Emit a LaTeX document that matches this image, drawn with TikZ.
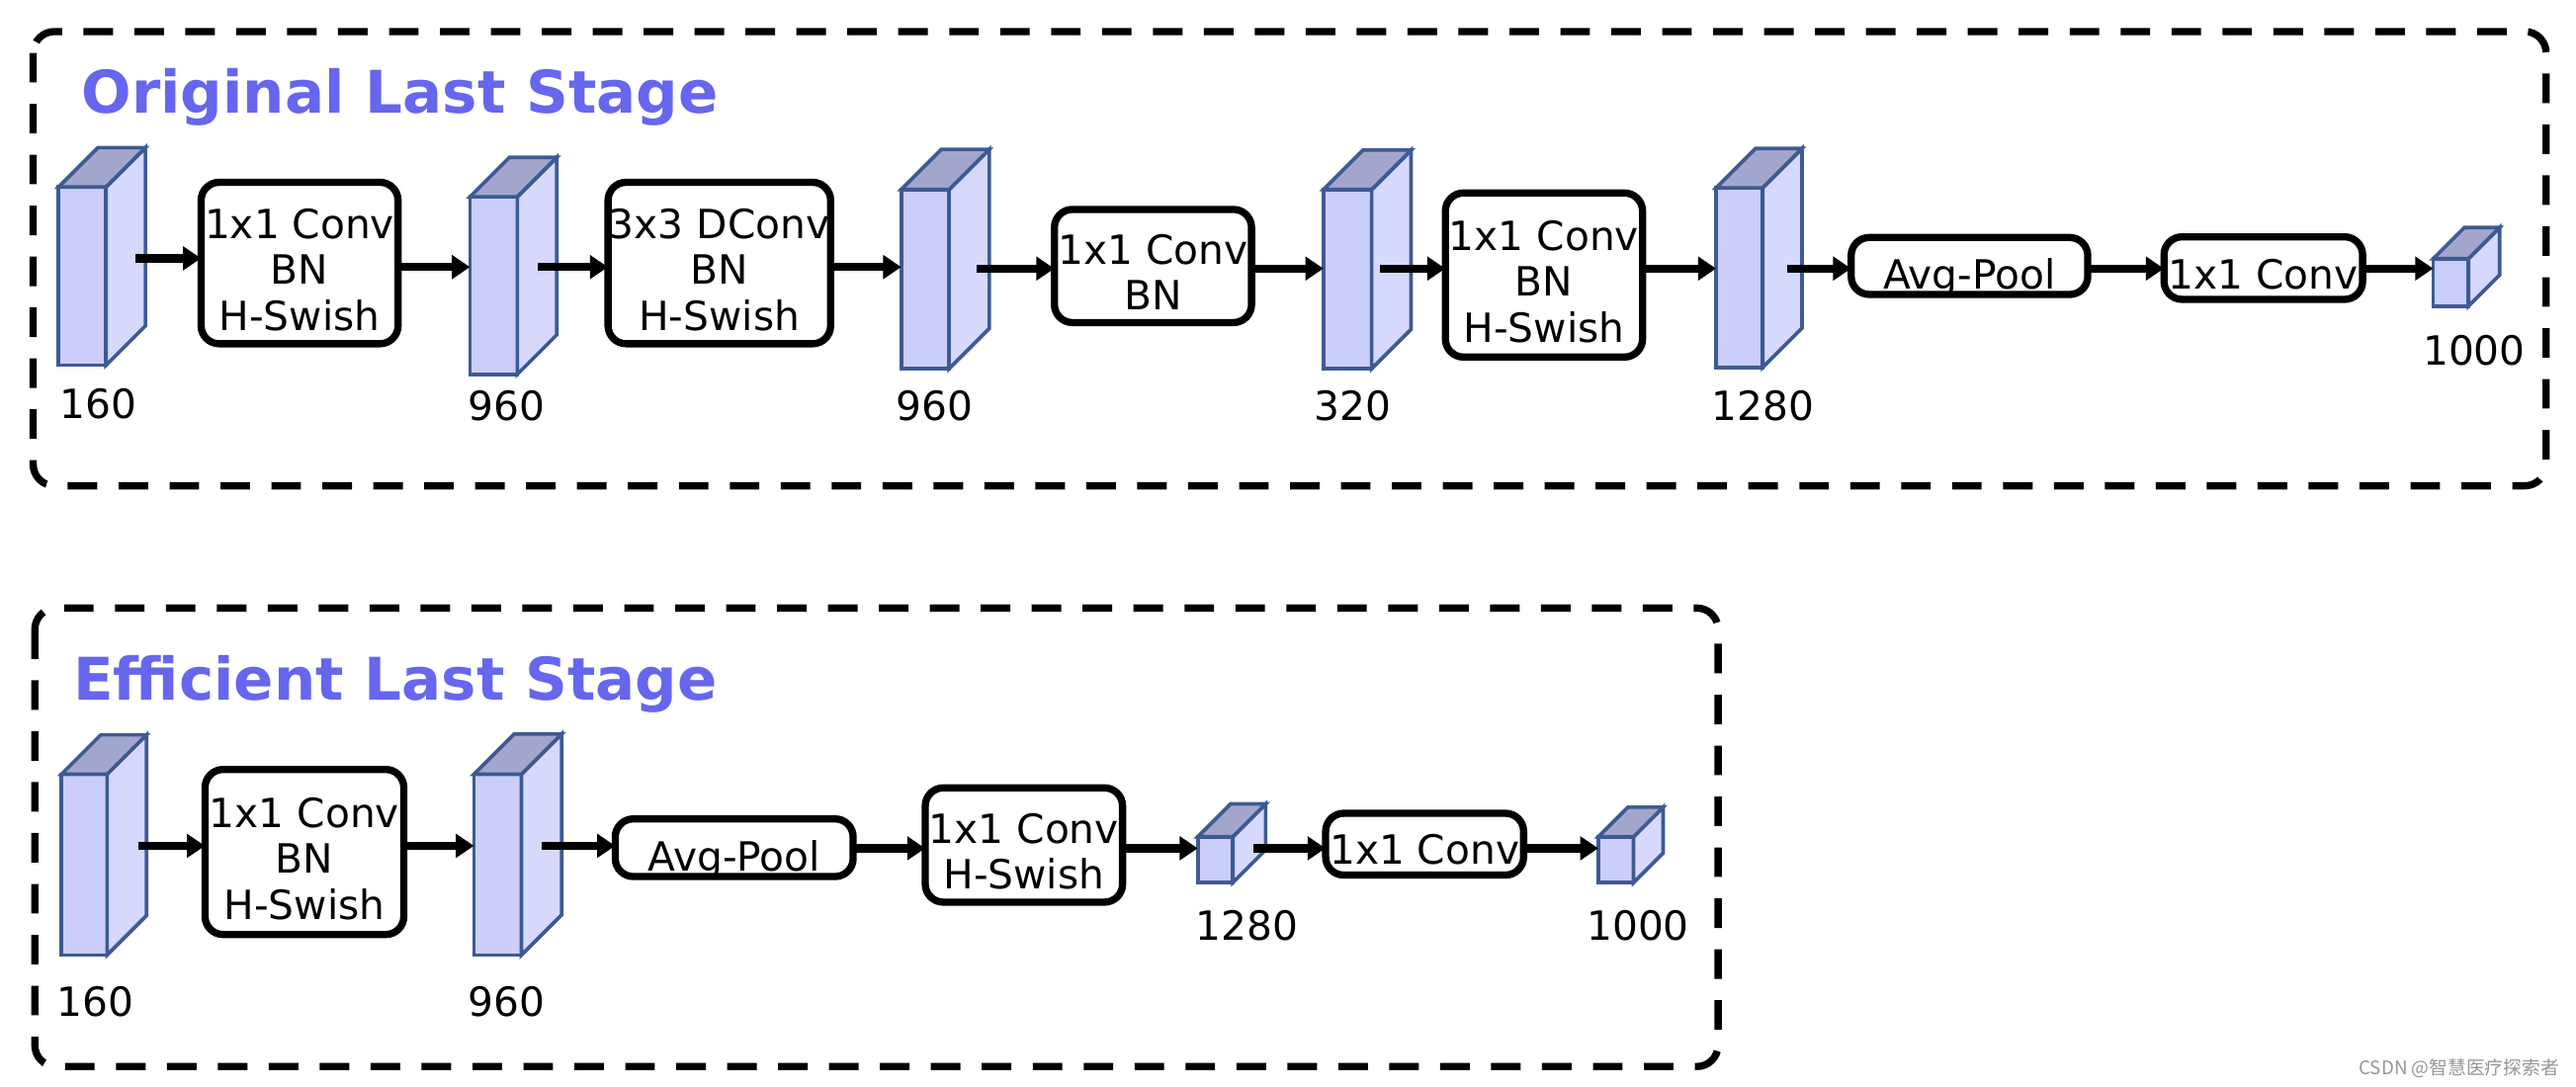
\documentclass[tikz,border=0pt]{standalone}
\usepackage{fontspec}
\setmainfont{DejaVu Sans}
\newfontfamily\cjkfont{Noto Sans CJK SC}
\usetikzlibrary{arrows.meta,calc}
\definecolor{cubefront}{RGB}{203,206,250}
\definecolor{cubeside}{RGB}{214,217,251}
\definecolor{cubetop}{RGB}{163,166,204}
\definecolor{cubeedge}{RGB}{61,90,147}
\definecolor{titleblue}{RGB}{102,102,238}
\definecolor{wmgray}{RGB}{150,150,150}
\newcommand\bodyfont{\fontsize{24.5}{28}\selectfont}
\newcommand\lns[2][7.35pt]{\raisebox{-#1}[\height][\depth]{\begin{tabular}{@{}c@{}}#2\end{tabular}}}
% name, x-left, y-top, width, height, depth (outer measures)
\newcommand\mkcube[6]{%
  \node[cubef, anchor=north west, minimum width={#4pt-2.2pt}, minimum height={#5pt-2.2pt}] (#1) at ($(#2,#3)+(1.1,1.1)$) {};
  \draw[cubeln, fill=cubeside] (#1.north east) -- ++(#6,-#6) -- ([shift={(#6,-#6)}]#1.south east) -- (#1.south east) -- cycle;
  \draw[cubeln, fill=cubetop] (#1.north west) -- ++(#6,-#6) -- ([shift={(#6,-#6)}]#1.north east) -- (#1.north east) -- cycle;
}
\tikzset{
  cubeln/.style={draw=cubeedge, line width=2.2pt, line join=miter},
  cubef/.style={cubeln, fill=cubefront, inner sep=0pt, outer sep=0pt},
  blk/.style={draw=black, line width=4.4pt, rounded corners=11pt, fill=white, inner sep=0pt, outer sep=0pt, font=\bodyfont},
  arr/.style={line width=5pt, -{Triangle[length=11pt,width=14pt]}},
  lbl/.style={font=\bodyfont, inner sep=0pt},
  ttl/.style={font=\bfseries\fontsize{35.8}{40}\selectfont, text=titleblue, inner sep=0pt, anchor=base west},
  dashbox/.style={draw=black, line width=4.4pt, dash pattern=on 18pt off 13pt, rounded corners=13pt}
}
\begin{document}
\begin{tikzpicture}[x=1pt, y=-1pt]
\useasboundingbox (0,0) rectangle (1568,661.85);
% frames
\draw[dashbox] (20.2,19.2) rectangle (1549.8,295.8);
\draw[dashbox] (21.2,370.2) rectangle (1045.8,649.4);
% titles
\node[ttl] (t1) at (49.5,68.8) {Original Last Stage};
\node[ttl] (t2) at (44.5,426) {Efficient Last Stage};
% ---------- top row ----------
\mkcube{c1}{34.5}{112.8}{31.1}{110.7}{24}
\mkcube{c2}{285}{118.7}{31}{110.3}{24}
\mkcube{c3}{547.5}{114.3}{31.3}{111.3}{24.5}
\mkcube{c4}{804.5}{114.3}{31.5}{111.3}{24}
\mkcube{c5}{1043.5}{113.3}{30.5}{111.5}{24}
\mkcube{c6}{1480}{156.4}{23.6}{31.1}{19}
\node[blk, minimum width=119.9pt, minimum height=98.3pt] (b1) at (182.35,160.15) {\lns{1x1 Conv\\BN\\H-Swish}};
\node[blk, minimum width=135.5pt, minimum height=98.3pt] (b2) at (437.85,160.15) {\lns{3x3 DConv\\BN\\H-Swish}};
\node[blk, minimum width=120pt, minimum height=68.9pt] (b3) at (701.8,161.95) {\lns{1x1 Conv\\BN}};
\node[blk, minimum width=120pt, minimum height=99.9pt] (b4) at (939.8,167.45) {\lns{1x1 Conv\\BN\\H-Swish}};
\node[blk, minimum width=144pt, minimum height=34.7pt] (b5) at (1198.8,161.95) {\lns[8.35pt]{Avg-Pool}};
\node[blk, minimum width=120.9pt, minimum height=38.1pt] (b6) at (1377.65,163.25) {\lns[6.85pt]{1x1 Conv}};
\node[lbl] (l1) at (59.7,246) {160};
\node[lbl] (l2) at (308.2,247) {960};
\node[lbl] (l3) at (569,247) {960};
\node[lbl] (l4) at (823.4,247) {320};
\node[lbl] (l5) at (1073,247) {1280};
\node[lbl] (l6) at (1506,213.6) {1000};
\coordinate (ya) at (0,157.3);
\coordinate (yb) at (0,162.6);
\coordinate (yc) at (0,163.5);
\coordinate (s1) at (82.2,157.3);
\coordinate (s2) at (327.4,162.6);
\coordinate (s3) at (594.5,163.5);
\coordinate (s4) at (839.7,163.5);
\coordinate (s5) at (1088,163.5);
\draw[arr] (s1) -- (b1.west |- ya);
\draw[arr] (b1.east |- yb) -- (c2.west |- yb);
\draw[arr] (s2) -- (b2.west |- yb);
\draw[arr] (b2.east |- yb) -- (c3.west |- yb);
\draw[arr] (s3) -- (b3.west |- yc);
\draw[arr] (b3.east |- yc) -- (c4.west |- yc);
\draw[arr] (s4) -- (b4.west |- yc);
\draw[arr] (b4.east |- yc) -- (c5.west |- yc);
\draw[arr] (s5) -- (b5.west |- yc);
\draw[arr] (b5.east |- yc) -- (b6.west |- yc);
\draw[arr] (b6.east |- yc) -- (c6.west |- yc);
% ---------- bottom row ----------
\mkcube{ca}{36.3}{470.3}{30}{112.3}{24}
\mkcube{cb}{287.4}{470.3}{31.1}{112.3}{24.5}
\mkcube{cc}{728}{508.4}{23.5}{30.1}{20}
\mkcube{cd}{971.8}{508.4}{23.6}{30.1}{18}
\node[blk, minimum width=121pt, minimum height=100.5pt] (d1) at (185.3,518.75) {\lns{1x1 Conv\\BN\\H-Swish}};
\node[blk, minimum width=144.8pt, minimum height=35.1pt] (d2) at (446.9,516.15) {\lns[8.35pt]{Avg-Pool}};
\node[blk, minimum width=120.1pt, minimum height=69.6pt] (d3) at (623.25,514.5) {\lns{1x1 Conv\\H-Swish}};
\node[blk, minimum width=120.5pt, minimum height=37.6pt] (d4) at (867.15,514) {\lns[6.85pt]{1x1 Conv}};
\node[lbl] (m1) at (58,609.7) {160};
\node[lbl] (m2) at (308.2,609.7) {960};
\node[lbl] (m3) at (759,563.6) {1280};
\node[lbl] (m4) at (997,563.6) {1000};
\coordinate (yd) at (0,515);
\coordinate (ye) at (0,516.5);
\coordinate (r1) at (84,515);
\coordinate (r2) at (329.9,515);
\coordinate (r3) at (763,516.5);
\draw[arr] (r1) -- (d1.west |- yd);
\draw[arr] (d1.east |- yd) -- (cb.west |- yd);
\draw[arr] (r2) -- (d2.west |- yd);
\draw[arr] (d2.east |- ye) -- (d3.west |- ye);
\draw[arr] (d3.east |- ye) -- (cc.west |- ye);
\draw[arr] (r3) -- (d4.west |- ye);
\draw[arr] (d4.east |- ye) -- (cd.west |- ye);
% watermark
\node[font=\cjkfont\fontsize{11.3}{13}\selectfont, text=wmgray, anchor=east, inner sep=0pt] (wm) at (1558,650.7) {CSDN @智慧医疗探索者};
\end{tikzpicture}
\end{document}
